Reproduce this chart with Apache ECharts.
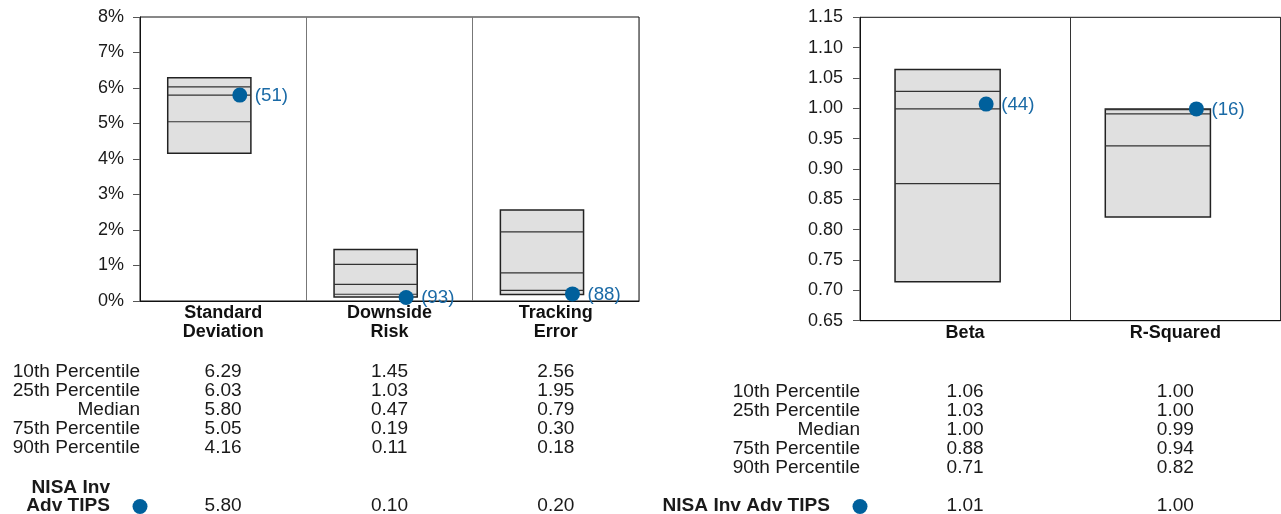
<!DOCTYPE html>
<html><head><meta charset="utf-8">
<script src="https://cdn.jsdelivr.net/npm/echarts@6/dist/echarts.min.js"></script>
<style>html,body{margin:0;padding:0;background:#fff}#c{width:1281px;height:514px}</style>
</head><body><div id="c"></div>
<script>
// ---- data ----
const riskCategories = ['Standard\nDeviation', 'Downside\nRisk', 'Tracking\nError'];
const riskP10    = [6.29, 1.45, 2.56];
const riskP25    = [6.03, 1.03, 1.95];
const riskMedian = [5.80, 0.47, 0.79];
const riskP75    = [5.05, 0.19, 0.30];
const riskP90    = [4.16, 0.11, 0.18];
const riskFund   = [5.80, 0.10, 0.20];
const riskRank   = [51, 93, 88];
const riskTickLabels = ['0%', '1%', '2%', '3%', '4%', '5%', '6%', '7%', '8%'];

const regrCategories = ['Beta', 'R-Squared'];
const regrP10    = [1.064, 0.999];
const regrP25    = [1.028, 0.998];
const regrMedian = [0.999, 0.991];
const regrP75    = [0.876, 0.938];
const regrP90    = [0.714, 0.821];
const regrFund   = [1.007, 0.999];
const regrRank   = [44, 16];
const regrTickLabels = ['0.65', '0.70', '0.75', '0.80', '0.85', '0.90', '0.95', '1.00', '1.05', '1.10', '1.15'];

const rowLabels = ['10th Percentile', '25th Percentile', 'Median', '75th Percentile', '90th Percentile'];
const fundName = 'NISA Inv Adv TIPS';

// ---- styles ----
const FONT = '"Liberation Sans", Arial, Helvetica, sans-serif';
const DOT = '#00609c';
const RANKC = '#1a6aa6';
const TXT = '#1a1a1a';

function boxRows(p10, p25, med, p75, p90) {
  return p10.map((v, i) => [i, p10[i], p25[i], med[i], p75[i], p90[i]]);
}
function fundRows(f, r) { return f.map((v, i) => [i, v, r[i]]); }

function boxRender(params, api) {
  const i = api.value(0);
  const bw = api.size([1, 0])[0];
  const top = api.coord([i, api.value(1)]);
  const bot = api.coord([i, api.value(5)]);
  const x0 = top[0] - bw / 3, w = bw / 2;
  const children = [{
    type: 'rect',
    shape: { x: x0, y: top[1], width: w, height: bot[1] - top[1] },
    style: { fill: '#e0e0e0', stroke: '#222', lineWidth: 1.5 }
  }];
  [2, 3, 4].forEach(k => {
    const y = api.coord([i, api.value(k)])[1];
    children.push({ type: 'line', shape: { x1: x0, y1: y, x2: x0 + w, y2: y }, style: { stroke: '#333', lineWidth: 1.2 } });
  });
  return { type: 'group', children };
}
function dotRender(params, api) {
  const i = api.value(0);
  const bw = api.size([1, 0])[0];
  const c = api.coord([i, api.value(1)]);
  const x = c[0] + bw * 0.1;
  return { type: 'group', children: [
    { type: 'circle', shape: { cx: x, cy: c[1], r: 7.5 }, style: { fill: DOT } },
    { type: 'text', x: x + 15, y: c[1] + 1, scaleX: 1.04, style: { text: '(' + api.value(2) + ')', fill: RANKC, font: '18px ' + FONT, align: 'left', verticalAlign: 'middle' } }
  ]};
}

const chart = echarts.init(document.getElementById('c'), null, { renderer: 'canvas' });

function xAx(gridIndex, data, splitColor) {
  return {
    type: 'category', gridIndex, data, boundaryGap: true,
    axisLine: { show: true, lineStyle: { color: '#111', width: 1 } },
    axisTick: { show: false },
    splitLine: { show: true, lineStyle: { color: splitColor, width: 1 } },
    axisLabel: { interval: 0, margin: 3, color: '#111', fontFamily: FONT, fontWeight: 'bold', fontSize: 18, lineHeight: 18.5 }
  };
}
function yAx(gridIndex, min, max, interval, labels, margin) {
  return {
    type: 'value', gridIndex, min, max, interval,
    axisLine: { show: true, lineStyle: { color: '#111', width: 1 } },
    axisTick: { show: true, length: 7, lineStyle: { color: '#555' } },
    splitLine: { show: false },
    axisLabel: { margin, color: TXT, fontFamily: FONT, fontSize: 18,
      formatter: v => labels[Math.round((v - min) / interval)] }
  };
}

chart.setOption({
  animation: false,
  backgroundColor: '#fff',
  grid: [
    { left: 140, top: 17, width: 499, height: 284, show: true, borderColor: '#111', borderWidth: 1, backgroundColor: 'transparent' },
    { left: 860, top: 17.3, width: 420.5, height: 303.4, show: true, borderColor: '#111', borderWidth: 1, backgroundColor: 'transparent' }
  ],
  xAxis: [xAx(0, riskCategories, '#777'), xAx(1, regrCategories, '#333')],
  yAxis: [yAx(0, 0, 8, 1, riskTickLabels, 16), yAx(1, 0.65, 1.15, 0.05, regrTickLabels, 17)],
  series: [
    { type: 'custom', xAxisIndex: 0, yAxisIndex: 0, clip: false, renderItem: boxRender,
      data: boxRows(riskP10, riskP25, riskMedian, riskP75, riskP90) },
    { type: 'custom', xAxisIndex: 0, yAxisIndex: 0, clip: false, renderItem: dotRender, z: 5,
      data: fundRows(riskFund, riskRank) },
    { type: 'custom', xAxisIndex: 1, yAxisIndex: 1, clip: false, renderItem: boxRender,
      data: boxRows(regrP10, regrP25, regrMedian, regrP75, regrP90) },
    { type: 'custom', xAxisIndex: 1, yAxisIndex: 1, clip: false, renderItem: dotRender, z: 5,
      data: fundRows(regrFund, regrRank) }
  ]
});

// ---- tables below the panels ----
function text(x, y, t, align, bold) {
  return { type: 'text', x, y, scaleX: 1.06, silent: true,
    style: { text: t, fill: TXT, font: (bold ? 'bold ' : '') + '18px ' + FONT, align, verticalAlign: 'middle', lineHeight: 18 } };
}
const g = [];
function table(axisIdx, gridLeft, firstRowY, cols, fundLabel, fundVals) {
  const xs = cols[0].map((_, i) => chart.convertToPixel({ xAxisIndex: axisIdx }, i));
  rowLabels.forEach((lab, r) => {
    const y = firstRowY + r * 19;
    g.push(text(gridLeft, y, lab, 'right', false));
    xs.forEach((x, i) => g.push(text(x, y, cols[r][i].toFixed(2), 'center', false)));
  });
  const fy = 506.5;
  g.push({ type: 'circle', silent: true, shape: { cx: gridLeft, cy: fy, r: 7.5 }, style: { fill: DOT } });
  g.push(text(gridLeft - 30, fundLabel.indexOf('\n') >= 0 ? 497 : fy, fundLabel, 'right', true));
  xs.forEach((x, i) => g.push(text(x, fy, fundVals[i].toFixed(2), 'center', false)));
}
table(0, 140, 372, [riskP10, riskP25, riskMedian, riskP75, riskP90], 'NISA Inv\nAdv TIPS', riskFund);
table(1, 860, 391.7, [regrP10, regrP25, regrMedian, regrP75, regrP90], fundName, regrFund);
chart.setOption({ graphic: { elements: g } });
</script>
</body></html>
